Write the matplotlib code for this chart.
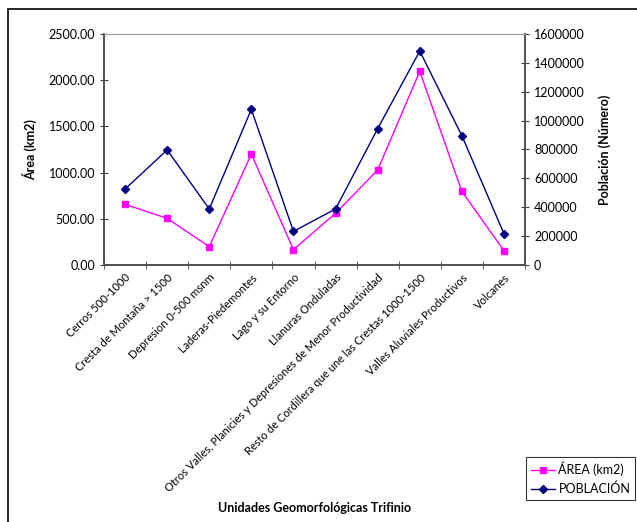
import numpy as np
import matplotlib.pyplot as plt
from matplotlib.patches import Rectangle

plt.rcParams['font.family'] = ['Lato', 'DejaVu Sans']

categories = ['Cerros 500-1000', 'Cresta de Montaña > 1500', 'Depresion 0-500 msnm',
              'Laderas-Piedemontes', 'Lago y su Entorno', 'Llanuras Onduladas',
              'Otros Valles, Planicies y Depresiones de Menor Productividad',
              'Resto de Cordillera que une las Crestas 1000-1500',
              'Valles Aluviales Productivos', 'Volcanes']
area = [657, 505, 198, 1201, 166, 559, 1028, 2096, 797, 155]
poblacion = [526000, 797000, 388000, 1078000, 233000, 388000, 944000, 1482000, 896000, 217000]

fig = plt.figure(figsize=(6.37, 5.22), dpi=100)
ax = fig.add_axes([104/637, 1-265/522, 421/637, 231/522])
ax2 = ax.twinx()

x = np.arange(len(categories))
l1, = ax.plot(x, area, color='#FF00FF', marker='s', markersize=5, lw=1, label='ÁREA (km2)')
l2, = ax2.plot(x, poblacion, color='#000080', marker='D', markersize=4.5, lw=1, label='POBLACIÓN')

ax.set_xlim(-0.5, len(categories)-0.5)
ax.set_ylim(0, 2500)
ax2.set_ylim(0, 1600000)
ax.set_yticks(np.arange(0, 2501, 500))
ax.set_yticklabels(['%.2f' % v for v in np.arange(0, 2501, 500)])
ax2.set_yticks(np.arange(0, 1600001, 200000))
ax2.set_yticklabels(['%d' % v for v in np.arange(0, 1600001, 200000)])

ax.set_xticks(x)
ax.set_xticklabels(categories, rotation=45, ha='right', va='top', rotation_mode='anchor', fontsize=8)
ax.set_xticks(np.arange(-0.5, len(categories)), minor=True)
ax.tick_params(axis='x', which='major', length=0, pad=5)
ax.tick_params(axis='x', which='minor', length=6, direction='inout', color='#404040')
ax.tick_params(axis='y', length=6, direction='inout', labelsize=9, color='#404040')
ax2.tick_params(axis='y', length=6, direction='inout', labelsize=9, color='#404040')

for a in (ax, ax2):
    for s in ('left', 'right', 'bottom'):
        a.spines[s].set_color('#505050')
        a.spines[s].set_linewidth(1.2)
    a.spines['top'].set_color('#A0A0A0')

ax.set_ylabel('Área (km2)', fontweight='bold', fontsize=9, labelpad=8)
ax2.set_ylabel('Población (Número)', fontweight='bold', fontsize=9, labelpad=10)
fig.text(315/637, 1-508/522, 'Unidades Geomorfológicas Trifinio', fontweight='bold',
         fontsize=9, ha='center', va='center')

leg = fig.legend([l1, l2], ['ÁREA (km2)', 'POBLACIÓN'], loc='upper left',
                 bbox_to_anchor=(526/637, 1-457/522), frameon=True, fancybox=False,
                 edgecolor='black', fontsize=9, borderpad=0.4, handlelength=1.9,
                 handletextpad=0.3, labelspacing=0.5, borderaxespad=0)
leg.get_frame().set_linewidth(0.8)

fig.patches.append(Rectangle((8/637, -0.1), 1.0, 1.1 - 9/522, transform=fig.transFigure,
                             fill=False, edgecolor='black', lw=1.2))

fig.savefig('out.png', dpi=100)
